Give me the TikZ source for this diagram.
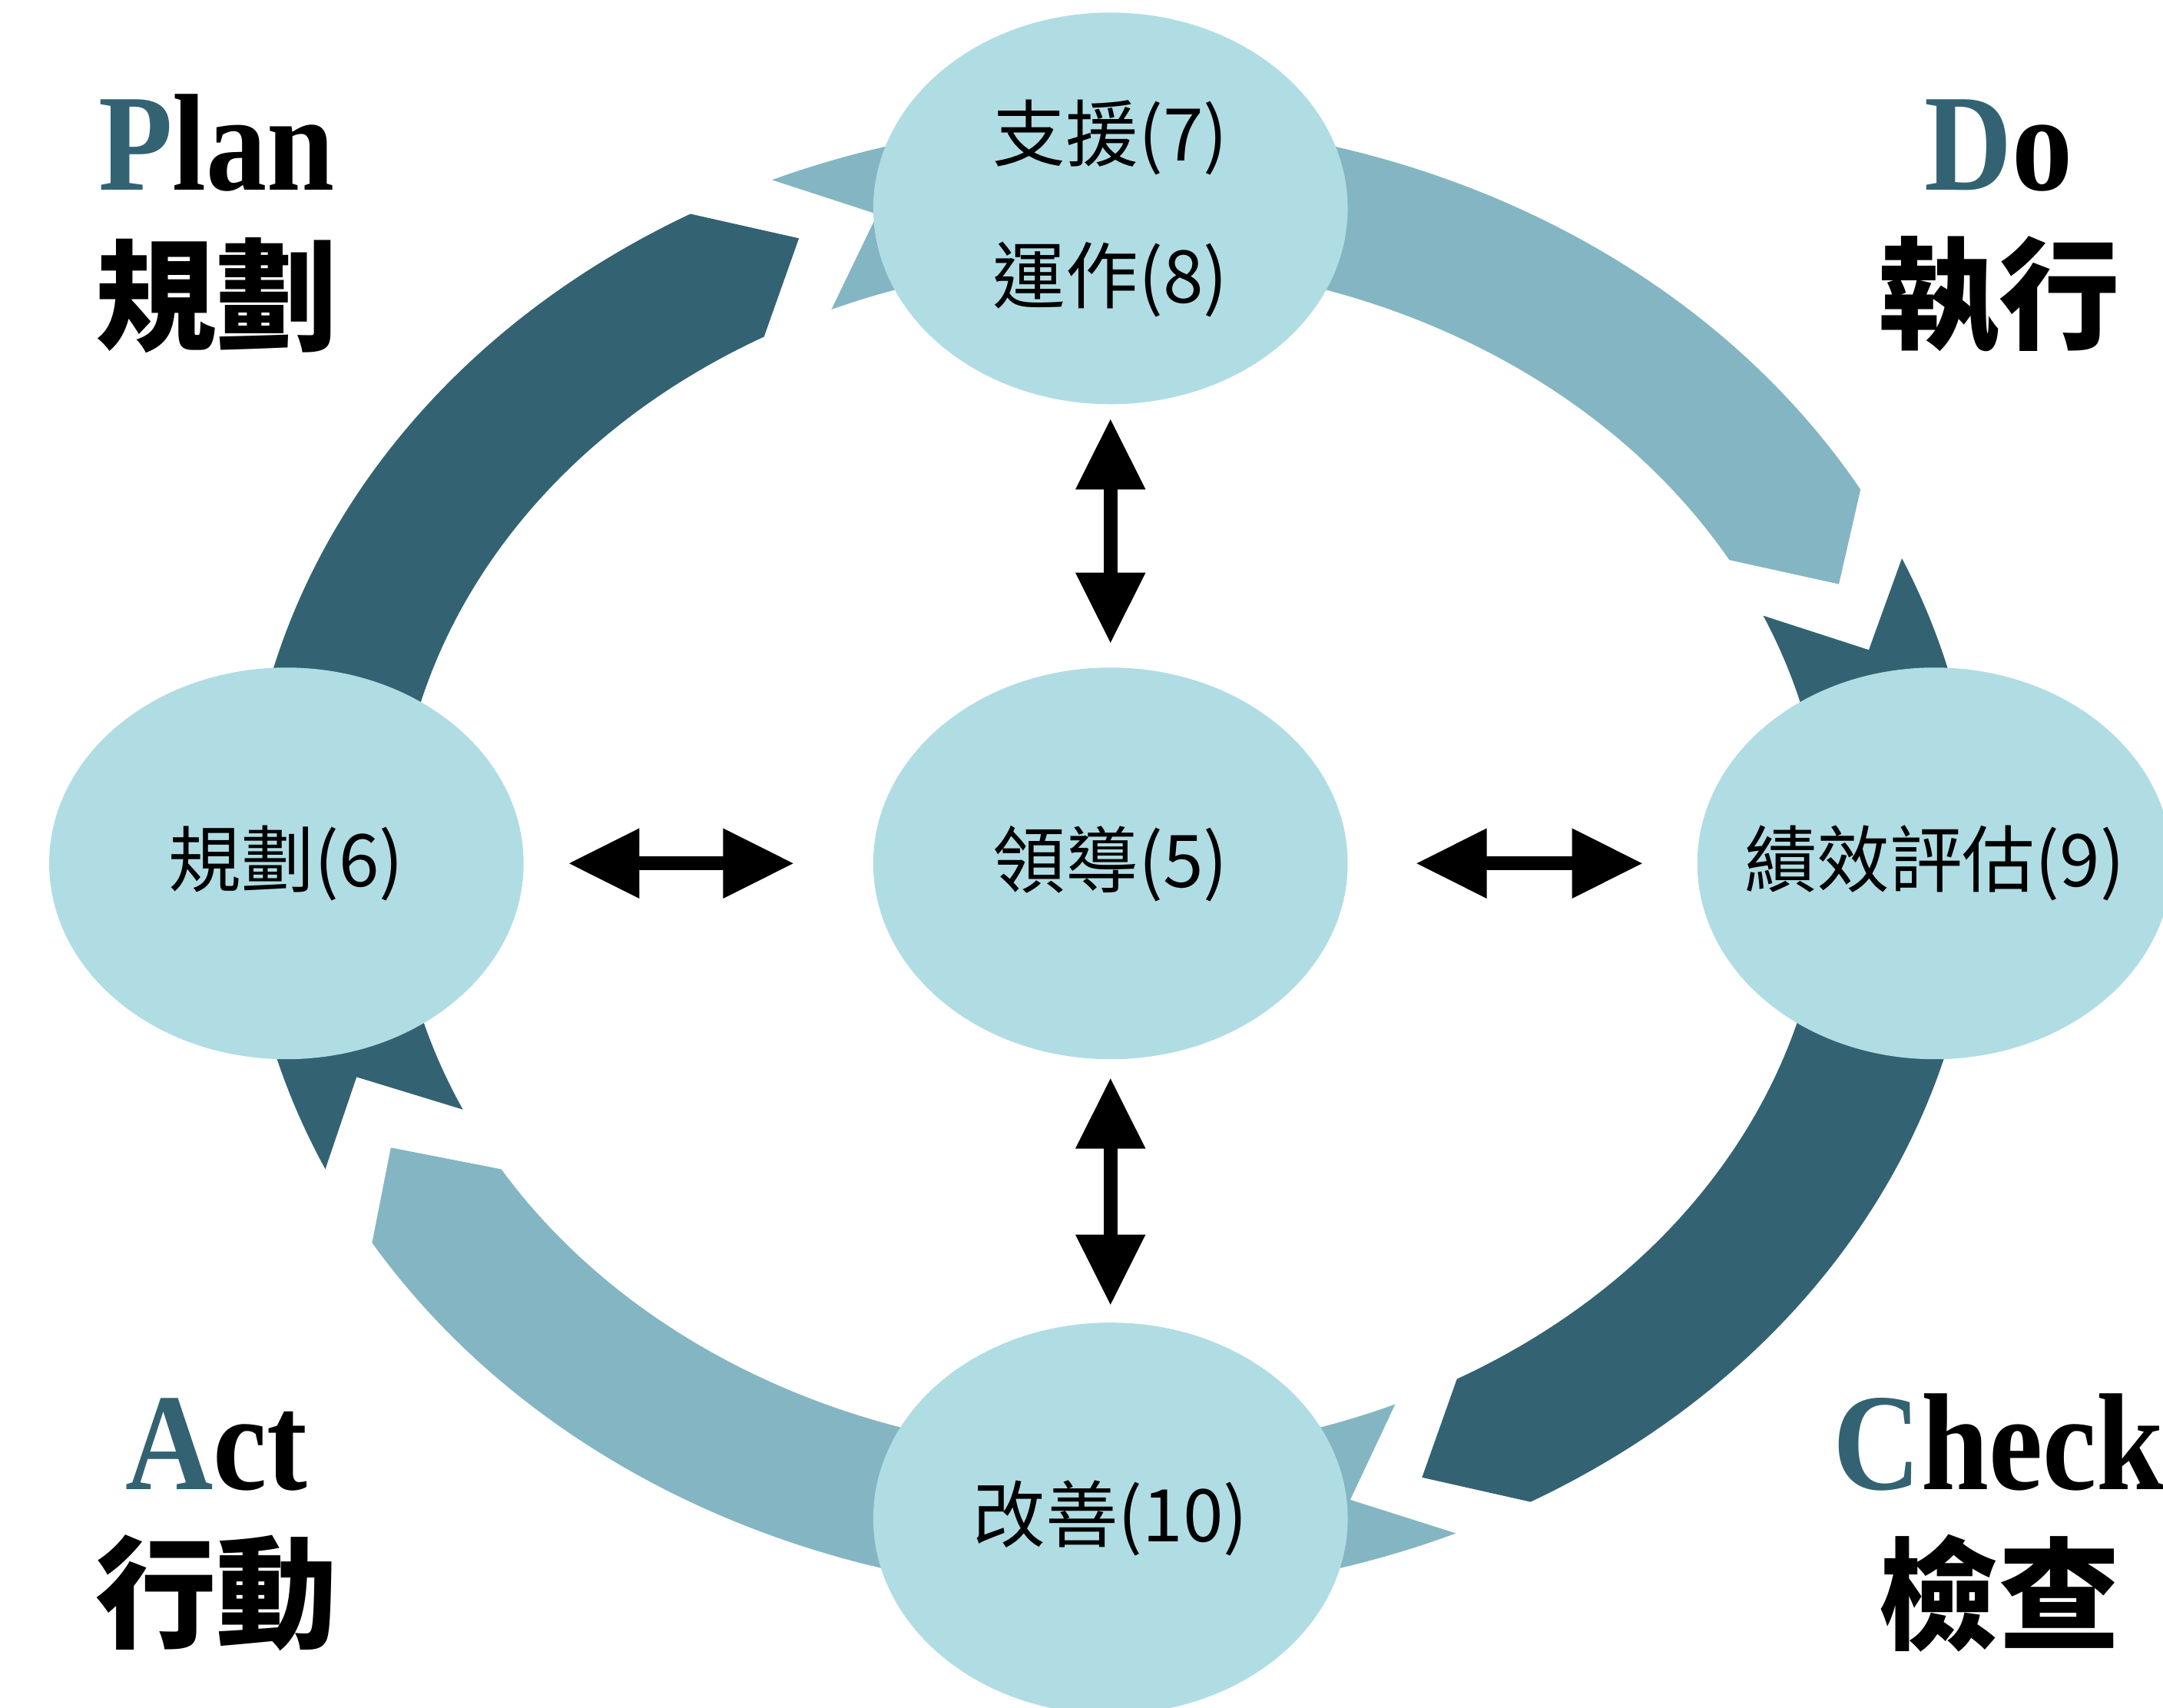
\documentclass[tikz,border=0pt]{standalone}
\usepackage{fontspec}
\setmainfont{Liberation Serif}
\newfontfamily\cjk{Noto Sans CJK TC}
\usepackage{xcolor}
\usetikzlibrary{shapes.geometric, arrows.meta}
\definecolor{ovalblue}{RGB}{176,221,228}
\definecolor{lightband}{RGB}{132,181,194}
\definecolor{darkband}{RGB}{51,99,115}
\tikzset{
  oval/.style = {shape=ellipse, fill=ovalblue, inner sep=0pt,
                 minimum width=6.88cm, minimum height=5.68cm,
                 align=center, font=\cjk\fontsize{30}{58.6}\selectfont},
  phase/.style = {anchor=base, xscale=0.88,
                  font=\bfseries\fontsize{57}{60}\selectfont},
  phasezh/.style = {font=\cjk\bfseries\fontsize{50}{55}\selectfont},
  dblarrow/.style = {line width=0.2cm,
                     {Triangle[length=1.03cm, width=0.96cm]}-{Triangle[length=1.03cm, width=0.96cm]}}
}
\begin{document}
\begin{tikzpicture}[x=0.02cm, y=0.02cm, node distance=9.5cm]
            \useasboundingbox (0,0) rectangle (1568,1238);

            \foreach \col/\s/\e in {darkband/205/119, lightband/113/30, darkband/24/-61, lightband/-66.5/-148.5}
              \fill[\col] ({805+628*cos(\s)},{616+534*sin(\s)})
                arc[start angle=\s, end angle=\e, x radius=12.56cm, y radius=10.68cm]
                -- ({805+578*cos(\e-6)},{616+488*sin(\e-6)})
                -- ({805+518*cos(\e)},{616+432*sin(\e)})
                arc[start angle=\e, end angle=\s, x radius=10.36cm, y radius=8.64cm]
                -- ({805+578*cos(\s-6)},{616+488*sin(\s-6)}) -- cycle;

            \node (lead) [oval] at (805,612) {領導(5)};
            \node (sup) [oval, above of=lead] {支援(7)\\運作(8)};
            \node (impr) [oval, below of=lead] {改善(10)};
            \node (plan) [oval, left of=lead, node distance=11.95cm] {規劃(6)};
            \node (eval) [oval, right of=lead, node distance=11.95cm] {\makebox[0pt]{績效評估(9)}};

            \draw [dblarrow, shorten <=0.2cm, shorten >=0.34cm] (sup) -- (lead);
            \draw [dblarrow, shorten <=0.26cm, shorten >=0.24cm] (lead) -- (impr);
            \draw [dblarrow, shorten <=0.64cm, shorten >=1.14cm] (plan) -- (lead);
            \draw [dblarrow, shorten <=0.98cm, shorten >=0.78cm] (lead) -- (eval);

            \node (plantxt) [phase] at (157,1100) {{\color{darkband}P}lan};
            \node (planzh) [phasezh] at (157,1024) {規劃};
            \node (dotxt) [phase] at (1449,1100) {{\color{darkband}D}o};
            \node (dozh) [phasezh] at (1449,1024) {執行};
            \node (acttxt) [phase] at (157,158) {{\color{darkband}A}ct};
            \node (actzh) [phasezh] at (157,83) {行動};
            \node (checktxt) [phase] at (1449,158) {{\color{darkband}C}heck};
            \node (checkzh) [phasezh] at (1449,83) {檢查};
\end{tikzpicture}
\end{document}
